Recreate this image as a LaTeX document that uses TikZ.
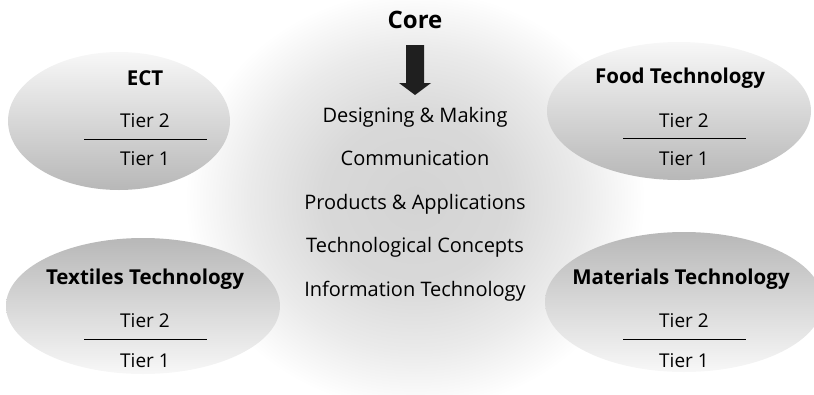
\documentclass[tikz,border=0pt]{standalone}
\usepackage{fontspec}
\setmainfont{Open Sans}
\usepackage{tikz}
\usetikzlibrary{shapes.geometric, positioning}

% soft grey glow behind the core list
\pgfdeclareradialshading{coreglow}{\pgfpoint{0bp}{0bp}}{%
  color(0bp)=(black!17); color(10bp)=(black!15); color(18bp)=(black!8);
  color(25bp)=(white); color(50bp)=(white)}

\begin{document}
\begin{tikzpicture}[
    x=1pt, y=-1pt,
    node distance=24pt,
    option/.style={
      ellipse,
      draw=none,
      inner sep=0pt
    },
    upper/.style={
      option,
      top color=black!3,
      bottom color=black!28
    },
    lower/.style={
      option,
      top color=black!28,
      bottom color=black!3
    },
    title/.style={
      font=\bfseries\fontsize{20.5}{24}\selectfont,
      inner sep=0pt
    },
    tier/.style={
      font=\fontsize{19}{22}\selectfont,
      inner sep=0pt,
      text height=14pt,
      text depth=0pt
    },
    topic/.style={
      font=\fontsize{20}{24}\selectfont,
      inner sep=0pt,
      text height=15pt,
      text depth=4pt
    },
    rule/.style={
      thin,
      draw=black
    }
  ]
    \useasboundingbox (0,0) rectangle (814,394);

    % Core glow
    \node (glow) [ellipse, shading=coreglow, minimum width=460pt, minimum height=420pt] at (415,200) {};

    % Option ellipses
    \node (ectbox) [upper, minimum width=222pt, minimum height=138pt] at (119,121) {};
    \node (foodbox) [upper, minimum width=264pt, minimum height=138pt] at (679,111) {};
    \node (textilesbox) [lower, minimum width=274pt, minimum height=136pt] at (143,306) {};
    \node (materialsbox) [lower, minimum width=278pt, minimum height=140pt] at (684,302) {};

    % ECT
    \node (ect) [title] at (145,78) {ECT};
    \node (ect2) [tier] at (145,120) {Tier 2};
    \node (ect1) [tier] at (145,158) {Tier 1};
    \draw [rule] (84,139) -- (207,139);

    % Food Technology
    \node (food) [title] at (680,78) {Food Technology};
    \node (food2) [tier] at (684,120) {Tier 2};
    \node (food1) [tier] at (684,158) {Tier 1};
    \draw [rule] (623,138) -- (746,138);

    % Textiles Technology
    \node (textiles) [title] at (145,279) {Textiles Technology};
    \node (textiles2) [tier] at (145,320) {Tier 2};
    \node (textiles1) [tier] at (145,360) {Tier 1};
    \draw [rule] (84,339) -- (207,339);

    % Materials Technology
    \node (materials) [title] at (681,279) {Materials Technology};
    \node (materials2) [tier] at (684,320) {Tier 2};
    \node (materials1) [tier] at (684,360) {Tier 1};
    \draw [rule] (623,339) -- (746,339);

    % Core and its block arrow
    \node (core) [title, font=\bfseries\fontsize{24}{28}\selectfont] at (415,20) {Core};
    \coordinate (arrowtop) at (415,45);
    \fill [black!88] (arrowtop) ++(-9,0) -- ++(18,0) -- ++(0,38) -- ++(7,0)
      -- ++(-16,12) -- ++(-16,-12) -- ++(7,0) -- cycle;

    % Core list
    \node (design) [topic] at (415,117) {Designing \& Making};
    \node (comm) [topic, below=of design] {Communication};
    \node (products) [topic, below=of comm] {Products \& Applications};
    \node (concepts) [topic, below=of products] {Technological Concepts};
    \node (infotech) [topic, below=of concepts] {Information Technology};

  \end{tikzpicture}
\end{document}
